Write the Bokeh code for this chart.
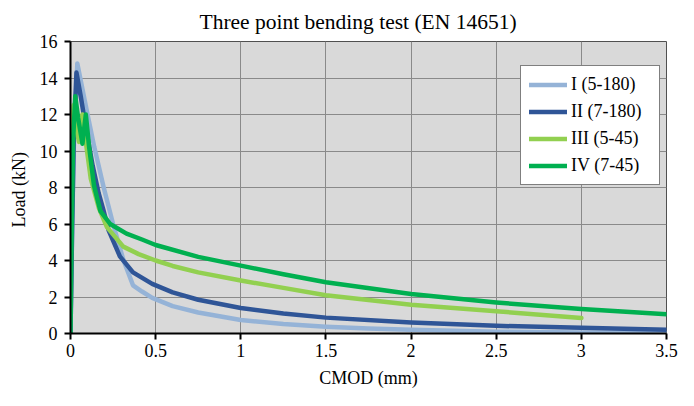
from bokeh.plotting import figure
from bokeh.models import Range1d, FixedTicker, Legend, LegendItem
from bokeh.embed import file_html
from bokeh.resources import INLINE

# ---- data ----
title_text = "Three point bending test (EN 14651)"
x_label = "CMOD (mm)"
y_label = "Load  (kN)"

x_ticks = [0, 0.5, 1, 1.5, 2, 2.5, 3, 3.5]
x_tick_labels = ["0", "0.5", "1", "1.5", "2", "2.5", "3", "3.5"]
y_ticks = [0, 2, 4, 6, 8, 10, 12, 14, 16]
y_tick_labels = ["0", "2", "4", "6", "8", "10", "12", "14", "16"]

names = ["I (5-180)", "II (7-180)", "III (5-45)", "IV (7-45)"]
colors = ["#95b3d7", "#2f5597", "#92d050", "#00b050"]

x1 = [0, 0.008, 0.02, 0.04, 0.1, 0.14, 0.195, 0.25, 0.31, 0.367, 0.42, 0.48, 0.6, 0.75, 1.0, 1.25, 1.5, 1.75, 2.0, 2.5, 3.0, 3.5]
y1 = [0, 5.0, 10.5, 14.8, 12.0, 10.2, 8.0, 6.0, 4.05, 2.64, 2.3, 1.95, 1.5, 1.15, 0.74, 0.52, 0.37, 0.27, 0.2, 0.1, 0.05, 0.03]

x2 = [0, 0.01, 0.02, 0.035, 0.06, 0.09, 0.13, 0.165, 0.195, 0.224, 0.29, 0.367, 0.48, 0.6, 0.75, 1.0, 1.25, 1.5, 2.0, 2.5, 3.0, 3.5]
y2 = [0, 6.0, 11.0, 14.3, 13.0, 11.3, 9.2, 7.7, 6.7, 5.65, 4.23, 3.35, 2.72, 2.25, 1.85, 1.40, 1.1, 0.87, 0.6, 0.42, 0.32, 0.21]

x3 = [0, 0.004, 0.01, 0.018, 0.035, 0.05, 0.07, 0.09, 0.119, 0.166, 0.214, 0.31, 0.4, 0.5, 0.6, 0.75, 1.0, 1.25, 1.5, 2.0, 2.5, 3.0]
y3 = [2.3, 7.0, 11.0, 12.5, 11.2, 10.5, 12.0, 10.5, 8.48, 6.89, 5.83, 4.76, 4.35, 4.0, 3.7, 3.35, 2.9, 2.5, 2.1, 1.58, 1.22, 0.85]

x4 = [0, 0.006, 0.015, 0.028, 0.045, 0.07, 0.09, 0.109, 0.138, 0.176, 0.233, 0.329, 0.42, 0.5, 0.75, 1.0, 1.25, 1.5, 2.0, 2.5, 3.0, 3.5]
y4 = [0, 5.0, 10.5, 13.0, 11.8, 10.4, 12.0, 10.25, 8.1, 6.7, 6.0, 5.47, 5.15, 4.85, 4.2, 3.72, 3.25, 2.81, 2.16, 1.70, 1.34, 1.05]

series_x = [x1, x2, x3, x4]
series_y = [y1, y2, y3, y4]

FONT = "Liberation Serif"

p = figure(width=678, height=390, output_backend="svg", toolbar_location=None,
           x_range=Range1d(0, 3.5), y_range=Range1d(0, 16),
           min_border_left=70, min_border_right=12, min_border_top=40, min_border_bottom=57)

p.background_fill_color = "#d9d9d9"
p.border_fill_color = "white"
p.outline_line_color = "#505050"
p.outline_line_width = 1

p.title.text = title_text
p.title.text_font = FONT
p.title.text_font_size = "21.5px"
p.title.text_font_style = "normal"
p.title.text_color = "black"
p.title.align = "left"
p.title.offset = 129
p.title.standoff = 15

for ax in (p.xaxis[0], p.yaxis[0]):
    ax.axis_line_color = "black"
    ax.axis_line_width = 2
    ax.major_tick_line_color = "black"
    ax.major_tick_line_width = 2
    ax.major_tick_in = 0
    ax.major_tick_out = 6
    ax.minor_tick_line_color = None
    ax.major_label_text_font = FONT
    ax.major_label_text_font_size = "18px"
    ax.major_label_text_color = "black"
    ax.axis_label_text_font = FONT
    ax.axis_label_text_font_size = "18px"
    ax.axis_label_text_font_style = "normal"
    ax.axis_label_text_color = "black"

p.xaxis[0].ticker = FixedTicker(ticks=x_ticks)
p.xaxis[0].major_label_overrides = {t: l for t, l in zip(x_ticks, x_tick_labels)}
p.xaxis[0].axis_label = x_label
p.xaxis[0].major_label_standoff = 4
p.xaxis[0].axis_label_standoff = 8

p.yaxis[0].ticker = FixedTicker(ticks=y_ticks)
p.yaxis[0].major_label_overrides = {t: l for t, l in zip(y_ticks, y_tick_labels)}
p.yaxis[0].axis_label = y_label
p.yaxis[0].major_label_standoff = 7
p.yaxis[0].axis_label_standoff = 8

p.xgrid.ticker = FixedTicker(ticks=x_ticks)
p.ygrid.ticker = FixedTicker(ticks=y_ticks)
for g in (p.xgrid[0], p.ygrid[0]):
    g.grid_line_color = "#8a8a8a"
    g.grid_line_width = 1

items = []
for xs, ys, c, n in zip(series_x, series_y, colors, names):
    r = p.line(xs, ys, line_color=c, line_width=4.5, line_join="round", line_cap="round")
    items.append(LegendItem(label=n, renderers=[r]))

legend = Legend(items=items, location=(450, 148))
legend.label_text_font = FONT
legend.label_text_font_size = "18px"
legend.label_text_color = "black"
legend.glyph_width = 38
legend.glyph_height = 21
legend.label_height = 21
legend.label_width = 80
legend.label_standoff = 4
legend.spacing = 6
legend.padding = 8
legend.margin = 0
legend.border_line_color = "black"
legend.border_line_width = 1
legend.background_fill_color = "white"
legend.background_fill_alpha = 1
p.add_layout(legend, "center")

open("out.html", "w").write(file_html(p, INLINE))
